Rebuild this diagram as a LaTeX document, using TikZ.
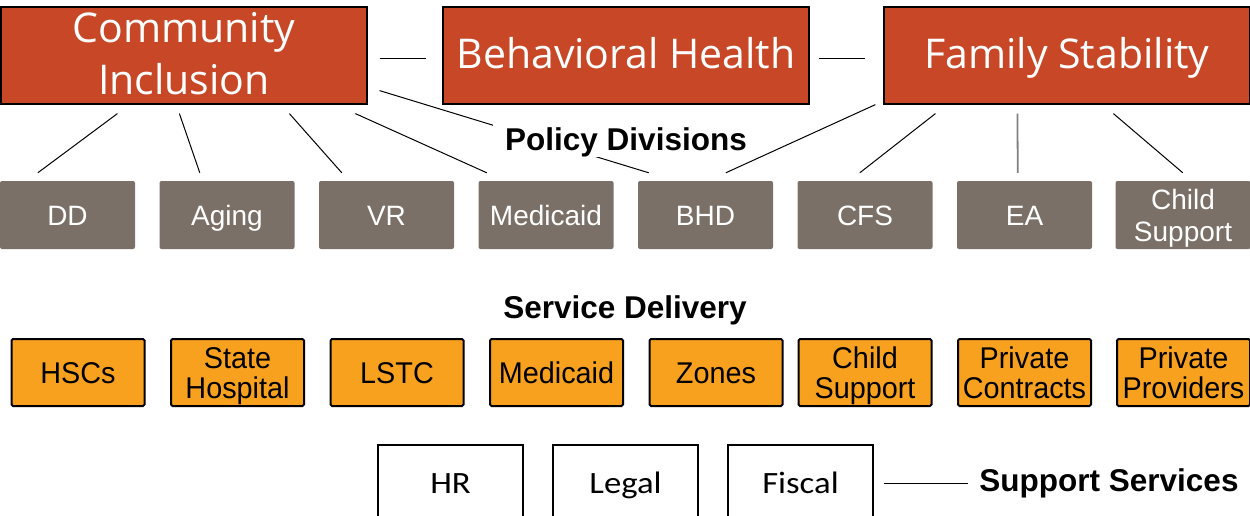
\documentclass[tikz,border=0pt]{standalone}
\usepackage{fontspec}
\setmainfont{Liberation Sans}
\newfontfamily\headfont{Open Sans}
\newfontfamily\narrowfont[FakeStretch=0.96]{Liberation Sans}
\newfontfamily\calfont[FakeStretch=1.12]{Carlito}
\definecolor{divred}{RGB}{199,71,39}
\definecolor{unitgray}{RGB}{122,112,103}
\definecolor{svcorange}{RGB}{248,161,30}
\definecolor{linegray}{RGB}{128,128,128}

\begin{document}
\begin{tikzpicture}[x=1pt,y=-1pt,
  divbox/.style={draw=black,line width=1.2pt,fill=divred,text=white,minimum width=366pt,minimum height=97pt,inner sep=0pt,align=center,text height=30pt,text depth=5pt,font=\headfont\fontsize{41}{52}\selectfont},
  unitbox/.style={fill=unitgray,rounded corners=2pt,text=white,minimum width=135pt,minimum height=68pt,inner sep=0pt,align=center,text height=20pt,text depth=0pt,font=\fontsize{28}{32}\selectfont},
  svcbox/.style={draw=black,line width=2pt,rounded corners=1.5pt,fill=svcorange,minimum width=133pt,minimum height=67pt,inner sep=0pt,align=center,text height=22pt,text depth=0pt,font=\narrowfont\fontsize{30}{30}\selectfont},
  supbox/.style={draw=black,line width=1.3pt,minimum width=145pt,minimum height=76pt,inner sep=0pt,text height=20pt,text depth=0pt,font=\calfont\fontsize{31}{34}\selectfont},
  heading/.style={fill=white,inner xsep=12pt,inner ysep=0pt,text height=29pt,text depth=7pt,font=\bfseries\fontsize{31.5}{36}\selectfont},
  link/.style={line width=1pt}]
\useasboundingbox (0,0) rectangle (1250,515);
\node[divbox,text height=82pt] (ci) at (184,55.5) {Community\\Inclusion};
\node[divbox] (bh) at (626,55.5) {Behavioral Health};
\node[divbox] (fs) at (1067,55.5) {Family Stability};
\node[unitbox] (dd) at (67.5,215) {DD};
\node[unitbox] (aging) at (227,215) {Aging};
\node[unitbox] (vr) at (386.5,215) {VR};
\node[unitbox] (medicaid) at (546,215) {Medicaid};
\node[unitbox] (bhd) at (705.5,215) {BHD};
\node[unitbox] (cfs) at (865,215) {CFS};
\node[unitbox] (ea) at (1024.5,215) {EA};
\node[unitbox,text height=52pt] (cs) at (1183,215) {Child\\Support};
\draw[link,shorten <=12pt,shorten >=16pt] ([yshift=-2.5pt]ci.east) -- ([yshift=-2.5pt]bh.west);
\draw[link,shorten <=9pt,shorten >=18pt] ([yshift=-2.5pt]bh.east) -- ([yshift=-2.5pt]fs.west);
\draw[link] ([xshift=117pt,yshift=-9pt]ci.south west) -- ([xshift=38pt,yshift=8pt]dd.north west);
\draw[link] ([xshift=179pt,yshift=-9pt]ci.south west) -- ([xshift=40.5pt,yshift=8pt]aging.north west);
\draw[link] ([xshift=289pt,yshift=-9pt]ci.south west) -- ([xshift=23pt,yshift=8pt]vr.north west);
\draw[link] ([xshift=355pt,yshift=-9pt]ci.south west) -- ([xshift=8.5pt,yshift=8pt]medicaid.north west);
\draw[link] ([xshift=12pt,yshift=14pt]ci.south east) -- ([xshift=11pt,yshift=8pt]bhd.north west);
\draw[link] ([xshift=-8pt]fs.south west) -- ([xshift=88pt,yshift=8pt]bhd.north west);
\draw[link] ([xshift=52pt,yshift=-9pt]fs.south west) -- ([xshift=62.5pt,yshift=8pt]cfs.north west);
\draw[line width=1.8pt,linegray] ([xshift=134pt,yshift=-9pt]fs.south west) -- ([xshift=61pt,yshift=8pt]ea.north west);
\draw[link] ([xshift=230pt,yshift=-9pt]fs.south west) -- ([xshift=67.5pt,yshift=8pt]cs.north west);
\node[heading] (policy) at (626,139) {Policy Divisions};
\node[heading] (service) at (625,307) {Service Delivery};
\node[svcbox] (hscs) at (78,372.5) {HSCs};
\node[svcbox,text height=52pt] (statehosp) at (237.5,372.5) {State\\Hospital};
\node[svcbox] (lstc) at (397,372.5) {LSTC};
\node[svcbox] (medsvc) at (556.5,372.5) {Medicaid};
\node[svcbox] (zones) at (716,372.5) {Zones};
\node[svcbox,text height=52pt] (csvc) at (865,372.5) {Child\\Support};
\node[svcbox,text height=52pt] (contracts) at (1024.5,372.5) {Private\\Contracts};
\node[svcbox,text height=52pt] (providers) at (1183.5,372.5) {Private\\Providers};
\node[supbox] (hr) at (450.5,483) {HR};
\node[supbox] (legal) at (625.5,483) {Legal};
\node[supbox] (fiscal) at (800.5,483) {Fiscal};
\node[heading,inner xsep=11pt] (support) at (1109,480) {Support Services};
\draw[link,shorten <=10pt] (fiscal.east) -- (fiscal.east -| support.west);
\end{tikzpicture}
\end{document}
